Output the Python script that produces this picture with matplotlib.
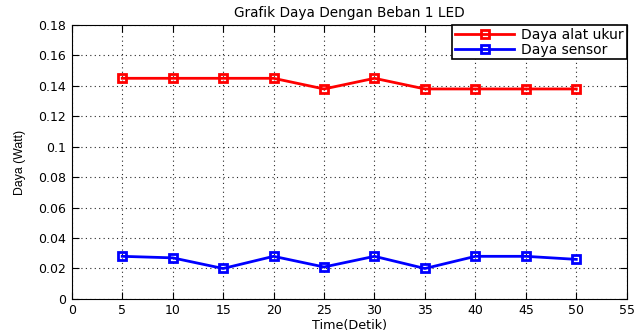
import numpy as np
import matplotlib
matplotlib.use("Agg")
import matplotlib.pyplot as plt

plt.rcParams['font.family'] = ['DejaVu Sans']

waktu = [5, 10, 15, 20, 25, 30, 35, 40, 45, 50]
daya_alat = [0.145, 0.145, 0.145, 0.145, 0.138, 0.145, 0.138, 0.138, 0.138, 0.138]
daya_sensor = [0.028, 0.027, 0.020, 0.028, 0.021, 0.028, 0.020, 0.028, 0.028, 0.026]

fig = plt.figure(figsize=(6.35, 3.34), dpi=100)
ax = fig.add_axes([0.113, 0.105, 0.874, 0.82])

ax.plot(waktu, daya_alat, '-s', color='red', linewidth=2, markersize=6,
        markerfacecolor='none', markeredgewidth=2, label='Daya alat ukur')
ax.plot(waktu, daya_sensor, '-s', color='blue', linewidth=2, markersize=6,
        markerfacecolor='none', markeredgewidth=2, label='Daya sensor')

ax.set_xlim(0, 55)
ax.set_ylim(0, 0.18)
ax.set_xticks(np.arange(0, 56, 5))
ax.set_yticks(np.arange(0, 0.181, 0.02))
ax.set_yticklabels(['0', '0.02', '0.04', '0.06', '0.08', '0.1', '0.12', '0.14', '0.16', '0.18'])
ax.grid(True, linestyle=(0, (1, 3)), color='0.15', linewidth=0.8)
ax.tick_params(direction='in', top=True, right=True, labelsize=9, length=5, pad=4)

ax.set_title('Grafik Daya Dengan Beban 1 LED', fontsize=9.8, pad=6)
ax.set_xlabel('Time(Detik)', fontsize=9.2, labelpad=1)
ax.set_ylabel('Daya (Watt)', fontsize=8.8, labelpad=9,
              family=['Liberation Sans Narrow', 'Liberation Sans'])

leg = ax.legend(loc='upper right', fontsize=10, fancybox=False, edgecolor='black',
                borderaxespad=0, handlelength=4.3, framealpha=1,
                labelspacing=0.05, borderpad=0.2, handletextpad=0.5)
leg.get_frame().set_linewidth(1.2)

fig.savefig('out.png', dpi=100)
